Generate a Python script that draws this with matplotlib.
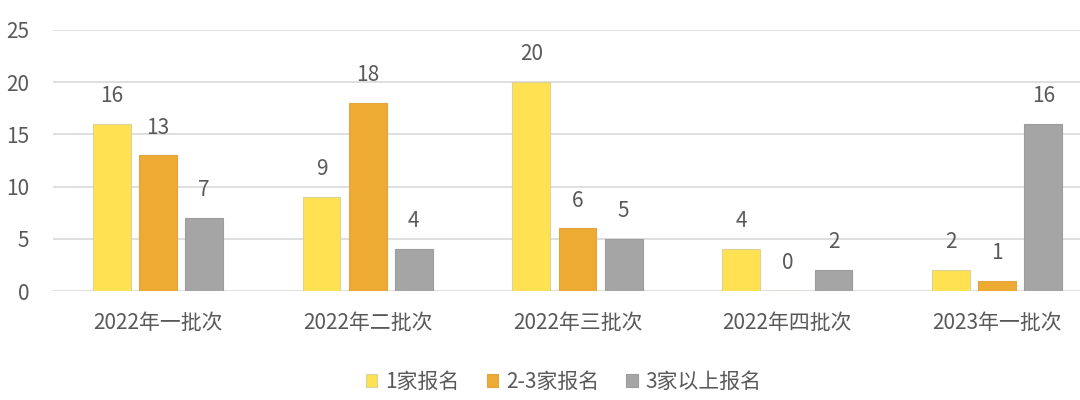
import matplotlib.pyplot as plt
import numpy as np

plt.rcParams['font.family'] = ['Noto Sans CJK SC', 'DejaVu Sans']

batches = ["2022年一批次", "2022年二批次", "2022年三批次", "2022年四批次", "2023年一批次"]
series_names = ["1家报名", "2-3家报名", "3家以上报名"]
one_bidder = [16, 9, 20, 4, 2]
two_three = [13, 18, 6, 0, 1]
more_than_three = [7, 4, 5, 2, 16]

colors = ["#FFE152", "#EDAB33", "#A5A5A5"]
edges = ["#D9D29A", "#E0A540", "#9C9C9C"]
text_color = "#595959"
fs = 15

fig = plt.figure(figsize=(10.8, 4), dpi=100)
ax = fig.add_axes([53 / 1080, 109 / 400, 1 - 53 / 1080, 261 / 400])

x = np.arange(len(batches))
width = 0.18
step = 0.22
for i, (vals, name) in enumerate(zip([one_bidder, two_three, more_than_three], series_names)):
    pos = x + (i - 1) * step
    bars = ax.bar(pos, vals, width, color=colors[i], edgecolor=edges[i], linewidth=0.8,
                  label=name, zorder=3)
    for b, v in zip(bars, vals):
        ax.annotate(f"{v}", (b.get_x() + b.get_width() / 2, v), xytext=(0, 20),
                    textcoords="offset points", ha='center', va='center',
                    fontsize=fs, color=text_color)

ax.set_ylim(0, 25)
ax.set_xlim(-0.5, 4.395)
ax.set_yticks(range(0, 26, 5))
ax.set_xticks(x)
ax.set_xticklabels(batches)
ax.tick_params(axis='both', length=0, labelsize=fs, labelcolor=text_color)
ax.tick_params(axis='x', pad=15)
ax.tick_params(axis='y', pad=17)
ax.grid(axis='y', color="#D9D9D9", linewidth=1.2, zorder=0)
for s in ax.spines.values():
    s.set_visible(False)

leg = fig.legend(loc='center', bbox_to_anchor=(564 / 1080, 1 - 382 / 400), ncol=3,
                 frameon=False, fontsize=fs, handlelength=0.53, handleheight=0.53,
                 handletextpad=0.4, columnspacing=1.3)
for t in leg.get_texts():
    t.set_color(text_color)

fig.savefig("out.png", dpi=100)
